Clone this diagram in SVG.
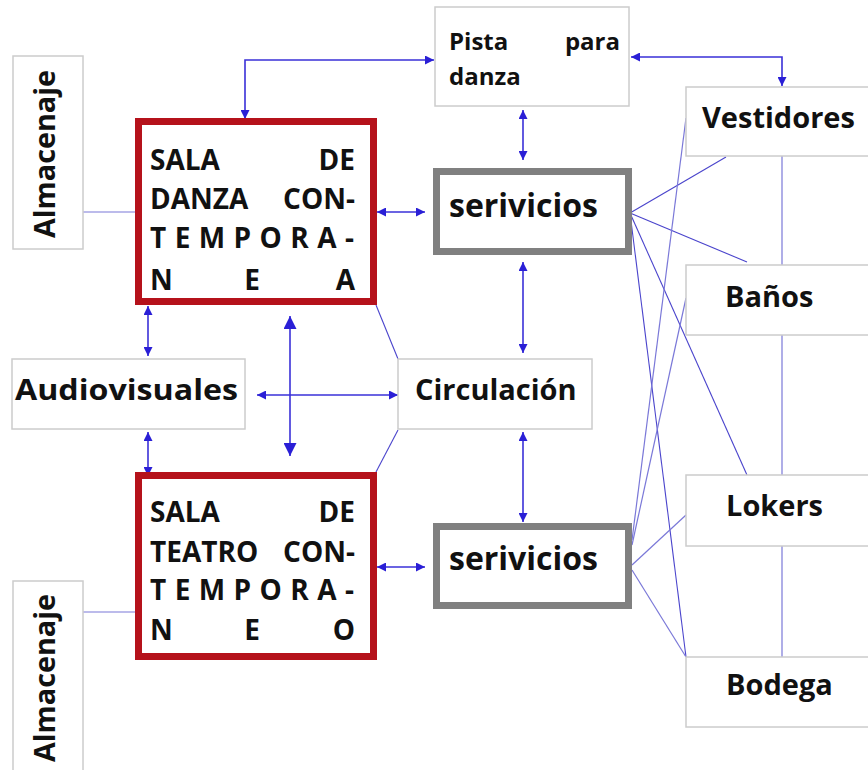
<svg xmlns="http://www.w3.org/2000/svg" width="868" height="770" viewBox="0 0 868 770">
<defs>
<style>
.box{fill:#fff;stroke:#cccccc;stroke-width:1.5}
.sala{fill:#fff;stroke:#b5121b;stroke-width:7}
.serv{fill:#fff;stroke:#808080;stroke-width:7}
.t{font-family:"Open Sans","Liberation Sans",sans-serif;font-weight:bold;fill:#111}
.arr{fill:none;stroke:#3a30d8;stroke-width:1.6}
.ln{fill:none;stroke:#4a44cc;stroke-width:1.1}
.lt{fill:none;stroke:#7a78d8;stroke-width:1.2}
</style>
<marker id="ah" viewBox="0 0 10 10" refX="10" refY="5" markerWidth="9" markerHeight="9" markerUnits="userSpaceOnUse" orient="auto-start-reverse">
<path d="M0,0 L10,5 L0,10 Z" fill="#2a1fd6"/>
</marker>
<marker id="ahb" viewBox="0 0 10 10" refX="10" refY="5" markerWidth="13" markerHeight="13" markerUnits="userSpaceOnUse" orient="auto-start-reverse">
<path d="M0,0 L10,5 L0,10 Z" fill="#2a1fd6"/>
</marker>
</defs>
<rect width="868" height="770" fill="#fff"/>

<g id="connectors">
<path class="lt" d="M83,212 H136"/>
<path class="lt" d="M83,612 H136"/>
<path class="ln" d="M376,305 L398,359"/>
<path class="ln" d="M398,430 L376,472"/>
<path class="lt" d="M782,156 V265"/>
<path class="lt" d="M782,335 V475"/>
<path class="lt" d="M782,546 V657"/>
<path class="ln" d="M630,213 L726,157"/>
<path class="ln" d="M630,213 L747,262"/>
<path class="ln" d="M630,213 L747,475"/>
<path class="ln" d="M630,213 L686,657"/>
<path class="lt" d="M632,540 L686,118"/>
<path class="lt" d="M632,545 L686,298"/>
<path class="lt" d="M632,565 L686,515"/>
<path class="lt" d="M632,570 L686,657"/>
<path class="arr" d="M245,119 V60 H434" marker-start="url(#ah)" marker-end="url(#ah)"/>
<path class="arr" d="M631,57 H782 V86" marker-start="url(#ah)" marker-end="url(#ah)"/>
<path class="arr" d="M523,110 V160" marker-start="url(#ah)" marker-end="url(#ah)"/>
<path class="arr" d="M377,212 H425" marker-start="url(#ah)" marker-end="url(#ah)"/>
<path class="arr" d="M523,262 V353" marker-start="url(#ah)" marker-end="url(#ah)"/>
<path class="arr" d="M523,432 V522" marker-start="url(#ah)" marker-end="url(#ah)"/>
<path class="arr" d="M377,567 H425" marker-start="url(#ah)" marker-end="url(#ah)"/>
<path class="arr" d="M148,306 V356" marker-start="url(#ah)" marker-end="url(#ah)"/>
<path class="arr" d="M148,432 V476" marker-start="url(#ah)" marker-end="url(#ah)"/>
<path class="arr" d="M290,316 V456" marker-start="url(#ahb)" marker-end="url(#ahb)"/>
<path class="arr" d="M257,395 H398" marker-start="url(#ah)" marker-end="url(#ah)"/>
</g>

<g id="pista">
<rect class="box" x="435" y="7" width="194" height="99"/>
<text class="t" x="449" y="50" font-size="24">Pista</text>
<text class="t" x="620" y="50" font-size="24" text-anchor="end">para</text>
<text class="t" x="449" y="85" font-size="24">danza</text>
</g>

<g id="vestidores">
<rect class="box" x="686" y="87" width="200" height="69"/>
<text class="t" x="702" y="128" font-size="29">Vestidores</text>
</g>
<g id="banos">
<rect class="box" x="686" y="265" width="200" height="70"/>
<text class="t" x="725" y="307" font-size="29">Baños</text>
</g>
<g id="lokers">
<rect class="box" x="686" y="475" width="200" height="71"/>
<text class="t" x="726" y="516" font-size="29">Lokers</text>
</g>
<g id="bodega">
<rect class="box" x="686" y="657" width="200" height="70"/>
<text class="t" x="726" y="695" font-size="29">Bodega</text>
</g>

<g id="almacenaje1">
<rect class="box" x="13" y="56" width="70" height="193"/>
<text class="t" font-size="29" transform="translate(55,238) rotate(-90)" textLength="168" lengthAdjust="spacingAndGlyphs">Almacenaje</text>
</g>
<g id="almacenaje2">
<rect class="box" x="13" y="581" width="70" height="200"/>
<text class="t" font-size="29" transform="translate(55,762) rotate(-90)" textLength="168" lengthAdjust="spacingAndGlyphs">Almacenaje</text>
</g>

<g id="audiovisuales">
<rect class="box" x="12" y="359" width="233" height="70"/>
<text class="t" x="15" y="400" font-size="28" textLength="223" lengthAdjust="spacingAndGlyphs">Audiovisuales</text>
</g>
<g id="circulacion">
<rect class="box" x="398" y="359" width="194" height="70"/>
<text class="t" x="415" y="400" font-size="29">Circulación</text>
</g>

<g id="sala-danza">
<rect class="sala" x="138.5" y="121.5" width="235" height="180"/>
<text class="t" x="150" y="170" font-size="28">SALA</text>
<text class="t" x="355" y="170" font-size="28" text-anchor="end">DE</text>
<text class="t" x="150" y="209" font-size="28">DANZA</text>
<text class="t" x="355" y="209" font-size="28" text-anchor="end">CON-</text>
<text class="t" x="150" y="248" font-size="28" textLength="204" lengthAdjust="spacing">TEMPORA-</text>
<text class="t" x="150" y="290" font-size="28">N</text>
<text class="t" x="252" y="290" font-size="28" text-anchor="middle">E</text>
<text class="t" x="355" y="290" font-size="28" text-anchor="end">A</text>
</g>

<g id="sala-teatro">
<rect class="sala" x="138.5" y="475.5" width="235" height="181"/>
<text class="t" x="150" y="522" font-size="28">SALA</text>
<text class="t" x="355" y="522" font-size="28" text-anchor="end">DE</text>
<text class="t" x="150" y="562" font-size="28">TEATRO</text>
<text class="t" x="355" y="562" font-size="28" text-anchor="end">CON-</text>
<text class="t" x="150" y="600" font-size="28" textLength="204" lengthAdjust="spacing">TEMPORA-</text>
<text class="t" x="150" y="640" font-size="28">N</text>
<text class="t" x="252" y="640" font-size="28" text-anchor="middle">E</text>
<text class="t" x="355" y="640" font-size="28" text-anchor="end">O</text>
</g>

<g id="servicios1">
<rect class="serv" x="436.5" y="171.5" width="192" height="80"/>
<text class="t" x="449" y="217" font-size="32">serivicios</text>
</g>
<g id="servicios2">
<rect class="serv" x="436.5" y="526.5" width="192" height="79"/>
<text class="t" x="449" y="570" font-size="32">serivicios</text>
</g>
</svg>
